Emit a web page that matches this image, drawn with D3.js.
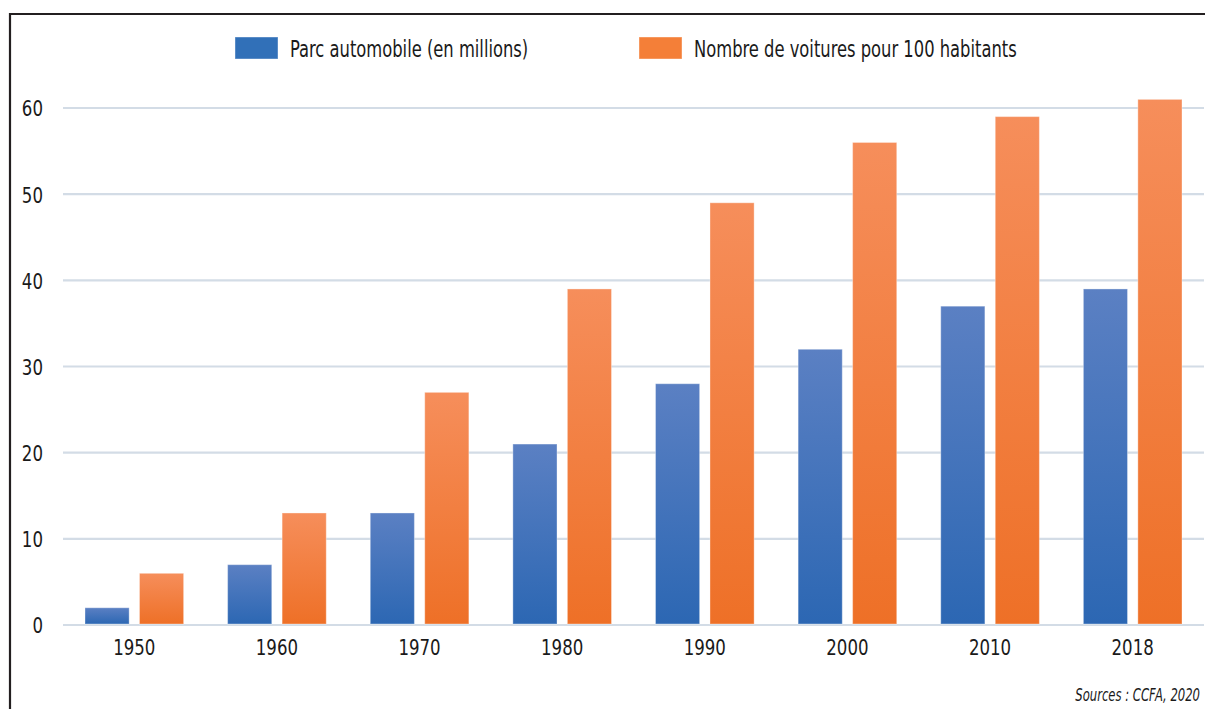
<!DOCTYPE html>
<html>
<head>
<meta charset="utf-8">
<script src="https://cdn.jsdelivr.net/npm/d3@7"></script>
<style>
  body { margin: 0; background: #fff; }
  text { font-family: "DejaVu Sans Condensed", "Liberation Sans Narrow", sans-serif; fill: #1a1a1a; }
</style>
</head>
<body>
<div id="chart"></div>
<script>
var w = 1205;
var h = 709;

// data
var years = ["1950", "1960", "1970", "1980", "1990", "2000", "2010", "2018"];
var parc = [2, 7, 13, 21, 28, 32, 37, 39];
var voitures = [6, 13, 27, 39, 49, 56, 59, 61];
var seriesNames = ["Parc automobile (en millions)", "Nombre de voitures pour 100 habitants"];
var yTicks = [0, 10, 20, 30, 40, 50, 60];

var colors = [
  { top: "#5b80c3", bottom: "#2c67b3", flat: "#3170b8" },
  { top: "#f68e5b", bottom: "#ee7027", flat: "#f47f38" }
];

// narrow look: the condensed font is still wider than the original one
var squeeze = 0.84;

var svg = d3.select("#chart").append("svg")
  .attr("width", w)
  .attr("height", h);

// gradients
var defs = svg.append("defs");
colors.forEach(function(c, i) {
  var g = defs.append("linearGradient")
    .attr("id", "grad" + i)
    .attr("x1", 0).attr("y1", 0).attr("x2", 0).attr("y2", 1);
  g.append("stop").attr("offset", "0%").attr("stop-color", c.top);
  g.append("stop").attr("offset", "100%").attr("stop-color", c.bottom);
});

// frame (top + left)
svg.append("path")
  .attr("d", "M10," + h + " L10,14 L" + w + ",14")
  .attr("fill", "none")
  .attr("stroke", "#231f20")
  .attr("stroke-width", 2.2);

var yScale = d3.scaleLinear()
  .domain([0, 60])
  .range([625, 108]);

var x0 = d3.scaleBand()
  .domain(years)
  .range([63, 1204]);

var x1 = d3.scaleBand()
  .domain([0, 1])
  .range([22, x0.bandwidth() - 22])
  .paddingInner(0.19);

// gridlines
svg.append("g")
  .selectAll("line")
  .data(yTicks)
  .enter()
  .append("line")
  .attr("x1", 63)
  .attr("x2", 1204)
  .attr("y1", function(d) { return yScale(d); })
  .attr("y2", function(d) { return yScale(d); })
  .attr("stroke", "#d3dce6")
  .attr("stroke-width", 2.2);

// y axis labels
var yAxis = d3.axisLeft(yScale).tickValues(yTicks).tickSize(0).tickPadding(0);
var gy = svg.append("g")
  .attr("transform", "translate(43,0)")
  .call(yAxis);
gy.select(".domain").remove();
gy.selectAll("text")
  .attr("font-size", 22)
  .attr("font-family", null)
  .attr("dy", "0.36em")
  .attr("fill", "#1a1a1a")
  .attr("transform", "scale(" + squeeze + ",1)");

// bars
var rows = years.map(function(y, i) {
  return { year: y, values: [parc[i], voitures[i]] };
});

var groups = svg.append("g")
  .selectAll("g")
  .data(rows)
  .enter()
  .append("g")
  .attr("transform", function(d) { return "translate(" + x0(d.year) + ",0)"; });

groups.selectAll("rect")
  .data(function(d) { return d.values.map(function(v, k) { return { k: k, v: v }; }); })
  .enter()
  .append("rect")
  .attr("x", function(d) { return x1(d.k); })
  .attr("y", function(d) { return yScale(d.v); })
  .attr("width", x1.bandwidth())
  .attr("height", function(d) { return yScale(0) - yScale(d.v) - 1; })
  .attr("fill", function(d) { return "url(#grad" + d.k + ")"; })
  .attr("stroke", "#ffffff")
  .attr("stroke-opacity", 0.35)
  .attr("stroke-width", 1);

// x axis labels
var xAxis = d3.axisBottom(x0).tickSize(0).tickPadding(0);
var gx = svg.append("g")
  .attr("transform", "translate(0,639)")
  .call(xAxis);
gx.select(".domain").remove();
gx.selectAll("text")
  .attr("font-size", 22)
  .attr("font-family", null)
  .attr("dy", "0.71em")
  .attr("fill", "#1a1a1a")
  .attr("transform", "scale(" + squeeze + ",1)");

// legend
var legendX = [235, 639];
var legend = svg.append("g")
  .selectAll("g")
  .data(seriesNames)
  .enter()
  .append("g")
  .attr("transform", function(d, i) { return "translate(" + legendX[i] + ",37)"; });

legend.append("rect")
  .attr("width", 43)
  .attr("height", 22)
  .attr("fill", function(d, i) { return colors[i].flat; })
  .attr("stroke", "#ffffff")
  .attr("stroke-opacity", 0.4);

legend.append("text")
  .attr("transform", "translate(55,20) scale(0.79,1)")
  .attr("font-size", 23)
  .text(function(d) { return d; });

// source
svg.append("text")
  .attr("transform", "translate(1200,701) scale(0.76,1)")
  .attr("text-anchor", "end")
  .attr("font-size", 17)
  .attr("font-style", "italic")
  .text("Sources : CCFA, 2020");
</script>
</body>
</html>
